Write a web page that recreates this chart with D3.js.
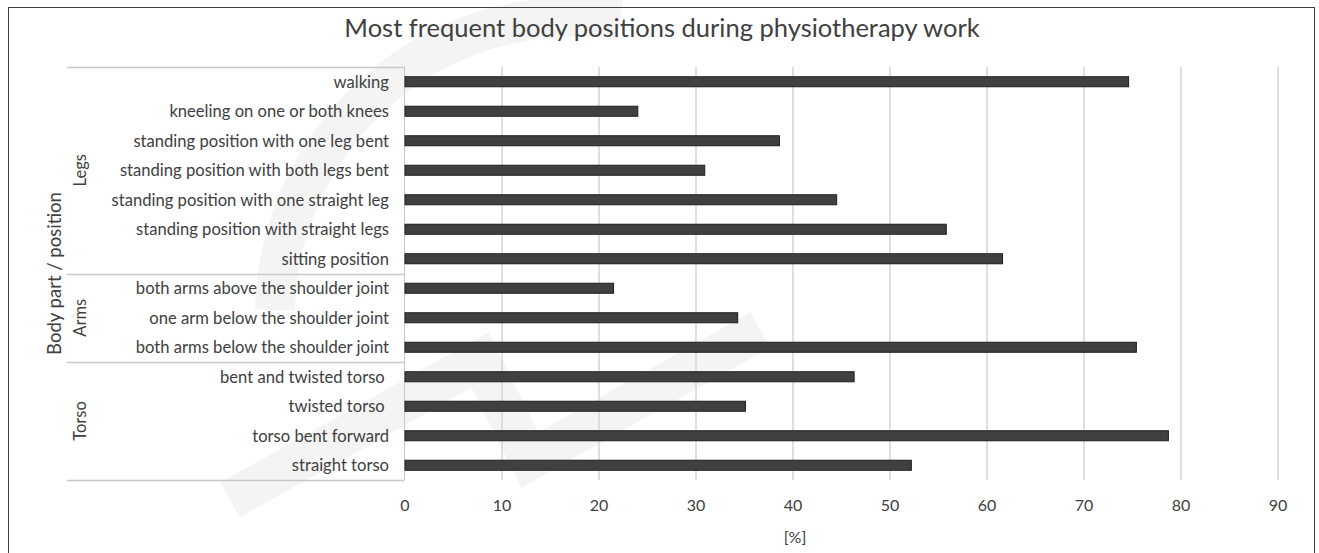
<!DOCTYPE html>
<html>
    <head>
        <meta http-equiv="Content-Type" content="text/html;charset=utf-8">
        <script src="https://d3js.org/d3.v7.min.js"></script>
        <title>Most frequent body positions</title>
        <style>
            body { margin:0; background:#fff; }
            text { font-family: Lato, "Open Sans", sans-serif; fill:#404040; }
        </style>
    </head>
    <body>
        <svg width="1319" height="553"></svg>
    </body>
    <script>
        // data, top to bottom as drawn
        var positions = [
            "walking",
            "kneeling on one or both knees",
            "standing position with one leg bent",
            "standing position with both legs bent",
            "standing position with one straight leg",
            "standing position with straight legs",
            "sitting position",
            "both arms above the shoulder joint",
            "one arm below the shoulder joint",
            "both arms below the shoulder joint",
            "bent and twisted torso ",
            "twisted torso ",
            "torso bent forward",
            "straight torso"
        ];
        var percents = [74.6, 24.0, 38.6, 30.9, 44.5, 55.8, 61.6, 21.5, 34.3, 75.4, 46.3, 35.1, 78.7, 52.2];
        var groups = ["Legs", "Arms", "Torso"];
        var groupSizes = [7, 3, 4];
        var xTicks = [0, 10, 20, 30, 40, 50, 60, 70, 80, 90];

        var svg = d3.select("svg");

        var plotLeft = 405, plotRight = 1278, plotTop = 67, plotBottom = 480;

        var x = d3.scaleLinear().domain([0, 90]).range([plotLeft, plotRight]);
        var y = d3.scaleBand().domain(positions).range([plotTop, plotBottom]).paddingInner(0.66).paddingOuter(0.33);

        // faint watermark in the background
        var wm = svg.append("g").attr("fill", "none").attr("stroke", "#f4f4f4").attr("stroke-width", 40);
        wm.append("path").attr("d", "M 620 20 A 300 300 0 0 0 275 310");
        wm.append("path").attr("d", "M 230 500 L 480 360 L 530 460 L 760 330");

        // frame
        svg.append("rect")
            .attr("x", 8.5).attr("y", 7.5)
            .attr("width", 1306).attr("height", 560)
            .attr("fill", "none").attr("stroke", "#404040");

        svg.append("text")
            .attr("x", 662).attr("y", 37)
            .attr("text-anchor", "middle")
            .style("font-size", "25.5px")
            .text("Most frequent body positions during physiotherapy work");

        // gridlines
        svg.append("g").selectAll("line")
            .data(xTicks.slice(1))
            .enter().append("line")
                .attr("x1", function(d){ return x(d); })
                .attr("x2", function(d){ return x(d); })
                .attr("y1", plotTop).attr("y2", plotBottom)
                .attr("stroke", "#d4d4d4").attr("stroke-width", 1.5);

        // tick labels
        svg.append("g").selectAll("text")
            .data(xTicks)
            .enter().append("text")
                .attr("x", function(d){ return x(d); })
                .attr("y", 511)
                .attr("text-anchor", "middle")
                .style("font-size", "16px")
                .text(function(d){ return d; });

        svg.append("text")
            .attr("x", 795).attr("y", 543)
            .attr("text-anchor", "middle")
            .style("font-size", "16px")
            .text("[%]");

        // category axis lines
        var axisCol = "#c8c8c8";
        svg.append("line")
            .attr("x1", plotLeft - 0.5).attr("x2", plotLeft - 0.5)
            .attr("y1", plotTop).attr("y2", plotBottom)
            .attr("stroke", axisCol);

        var step = y.step();
        var bounds = [0];
        groupSizes.forEach(function(n, i){ bounds.push(bounds[i] + n); });
        function yEdge(k){
            if (k === 0) return plotTop;
            if (k === positions.length) return plotBottom;
            return y(positions[k]) - y.paddingInner() * step / 2;
        }

        svg.append("g").selectAll("line")
            .data(bounds)
            .enter().append("line")
                .attr("x1", 67).attr("x2", plotLeft - 0.5)
                .attr("y1", function(k){ return Math.round(yEdge(k)) + 0.5; })
                .attr("y2", function(k){ return Math.round(yEdge(k)) + 0.5; })
                .attr("stroke", axisCol).attr("stroke-width", 1.5);

        // group labels
        svg.append("g").selectAll("text")
            .data(groups)
            .enter().append("text")
                .attr("transform", function(d, i){
                    var cy = (yEdge(bounds[i]) + yEdge(bounds[i + 1])) / 2;
                    return "translate(86," + cy + ") rotate(-90)";
                })
                .attr("text-anchor", "middle")
                .style("font-size", "16.5px")
                .text(function(d){ return d; });

        svg.append("text")
            .attr("transform", "translate(61," + ((plotTop + plotBottom) / 2) + ") rotate(-90)")
            .attr("text-anchor", "middle")
            .style("font-size", "18.5px")
            .text("Body part / position");

        // category labels
        svg.append("g").selectAll("text")
            .data(positions)
            .enter().append("text")
                .attr("x", 389)
                .attr("y", function(d){ return y(d) + y.bandwidth() / 2; })
                .attr("dy", "0.35em")
                .attr("text-anchor", "end")
                .style("font-size", "16.6px")
                .style("white-space", "pre")
                .text(function(d){ return d; });

        // bars
        svg.append("g").selectAll("rect")
            .data(percents)
            .enter().append("rect")
                .attr("x", x(0))
                .attr("y", function(d, i){ return y(positions[i]); })
                .attr("width", function(d){ return x(d) - x(0); })
                .attr("height", y.bandwidth())
                .attr("fill", "#404040")
                .attr("stroke", "#1e1e1e")
                .attr("stroke-width", 1);
    </script>
</html>
